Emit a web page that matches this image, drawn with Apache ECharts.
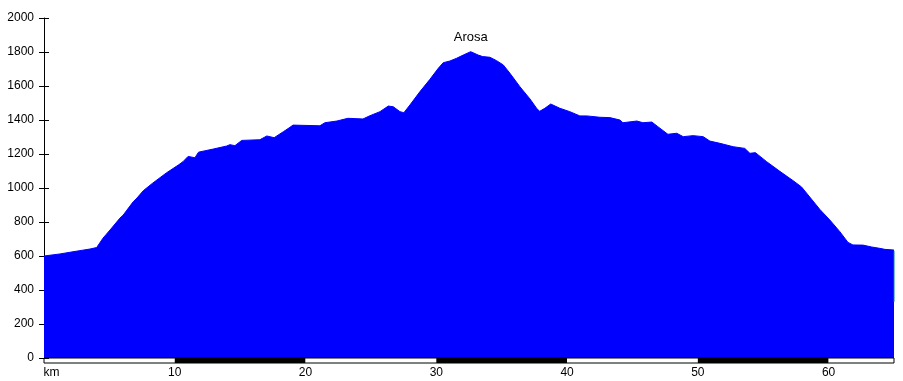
<!DOCTYPE html>
<html>
<head>
<meta charset="utf-8">
<script src="https://cdn.jsdelivr.net/npm/echarts@6/dist/echarts.min.js"></script>
<style>
html,body{margin:0;padding:0;background:#fff;}
#c{width:903px;height:381px;}
</style>
</head>
<body>
<div id="c"></div>
<script>
const km = [0, 1.22, 2.22, 3.52, 4.03, 4.51, 5.05, 5.81, 6.06, 6.83, 7.11, 7.59, 8.3, 9.38, 10.27, 10.63, 11.02, 11.54, 11.82, 12.94, 13.97, 14.22, 14.60, 15.12, 16.51, 17.04, 17.6, 18.3, 18.81, 19.04, 21.10, 21.48, 22.40, 23.24, 24.39, 24.92, 25.69, 26.33, 26.71, 27.22, 27.52, 27.98, 28.75, 29.51, 30.15, 30.53, 31.04, 31.55, 32.06, 32.63, 33.20, 33.55, 34.10, 34.61, 35.12, 35.63, 36.39, 37.16, 37.67, 37.90, 38.30, 38.75, 39.45, 40.21, 40.98, 41.51, 42.51, 43.27, 44.04, 44.27, 45.34, 45.80, 46.48, 46.94, 47.71, 48.39, 48.88, 49.64, 50.41, 50.92, 51.68, 52.70, 53.59, 53.98, 54.40, 55.26, 56.27, 57.29, 57.93, 58.43, 59.33, 60.09, 60.86, 61.48, 61.86, 62.63, 63.29, 63.91, 64.3, 65.0];
const elevation = [600, 612, 625, 641, 650, 705, 753, 823, 841, 920, 941, 984, 1028, 1090, 1135, 1155, 1186, 1178, 1211, 1229, 1247, 1255, 1249, 1280, 1284, 1306, 1296, 1331, 1357, 1370, 1366, 1384, 1394, 1410, 1406, 1425, 1449, 1482, 1478, 1449, 1443, 1488, 1567, 1639, 1704, 1737, 1747, 1763, 1782, 1802, 1782, 1773, 1769, 1749, 1724, 1675, 1596, 1524, 1469, 1451, 1469, 1494, 1469, 1449, 1424, 1424, 1416, 1414, 1400, 1384, 1394, 1384, 1388, 1361, 1316, 1322, 1302, 1308, 1302, 1276, 1263, 1243, 1233, 1204, 1208, 1155, 1098, 1043, 1006, 959, 874, 812, 743, 680, 665, 664, 653, 645, 639, 635];
const placeNames = ['Arosa'];
const placeKm = [32.63];
const placeElev = [1802];
const edgeKm = [65.0, 65.0];
const edgeElev = [631, 331];
const yMin = 0, yMax = 2000, yStep = 200;
const xMin = 0, xMax = 65, xStep = 10;
const xUnitLabel = 'km';

const FONT = 'Liberation Sans, Arial, sans-serif';
const profile = km.map((k, i) => [k, elevation[i]]);
const edge = edgeKm.map((k, i) => [k, edgeElev[i]]);

const chart = echarts.init(document.getElementById('c'), null, {renderer: 'canvas'});
chart.setOption({
  animation: false,
  backgroundColor: '#ffffff',
  grid: [
    {left: 44, right: 9, top: 18, height: 340, show: false},
    {left: 44, right: 9, top: 358, height: 5, show: true, borderColor: '#000000', borderWidth: 1, backgroundColor: 'transparent', z: 5}
  ],
  xAxis: [
    {gridIndex: 0, type: 'value', min: xMin, max: xMax, interval: xStep, show: false},
    {gridIndex: 1, type: 'value', min: xMin, max: xMax, interval: xStep,
     axisLine: {show: false}, axisTick: {show: false}, splitLine: {show: false},
     splitArea: {show: true, areaStyle: {color: ['#ffffff', '#000000'], opacity: 1}},
     axisLabel: {
       show: true, margin: 4, color: '#000000', fontSize: 12, fontFamily: FONT,
       showMaxLabel: false,
       formatter: v => v === xMin ? '{u|' + xUnitLabel + '}' : (v % xStep === 0 ? String(v) : ''),
       rich: {u: {fontSize: 12, fontFamily: FONT, color: '#000000', padding: [0, 0, 0, 15]}}
     }}
  ],
  yAxis: [
    {gridIndex: 0, type: 'value', min: yMin, max: yMax, interval: yStep,
     axisLine: {show: true, lineStyle: {color: '#000000', width: 1}},
     axisTick: {show: true, length: 5, inside: false, lineStyle: {color: '#000000'}},
     splitLine: {show: false},
     axisLabel: {show: true, margin: 10, color: '#000000', fontSize: 12, fontFamily: FONT,
                 formatter: v => String(v)}},
    {gridIndex: 0, type: 'value', min: yMin, max: yMax, interval: yStep, position: 'left',
     axisLine: {show: false},
     axisTick: {show: true, length: 5, inside: true, lineStyle: {color: '#000000'}},
     splitLine: {show: false}, axisLabel: {show: false}},
    {gridIndex: 1, type: 'value', min: 0, max: 1, show: false}
  ],
  series: [
    {
      type: 'line', xAxisIndex: 0, yAxisIndex: 0, data: profile,
      showSymbol: false, symbol: 'none',
      lineStyle: {color: '#0000ff', width: 1},
      areaStyle: {color: '#0000ff', opacity: 1},
      z: 2,
      markPoint: {
        symbol: 'circle', symbolSize: 0,
        label: {show: true, position: 'top', distance: 8, color: '#000000', fontSize: 13, fontFamily: FONT,
                formatter: p => p.name},
        data: placeNames.map((n, i) => ({name: n, coord: [placeKm[i], placeElev[i]]}))
      }
    },
    {
      type: 'line', xAxisIndex: 0, yAxisIndex: 0, data: edge,
      showSymbol: false, symbol: 'none',
      lineStyle: {color: '#008080', width: 1}, z: 3
    }
  ]
});
</script>
</body>
</html>
